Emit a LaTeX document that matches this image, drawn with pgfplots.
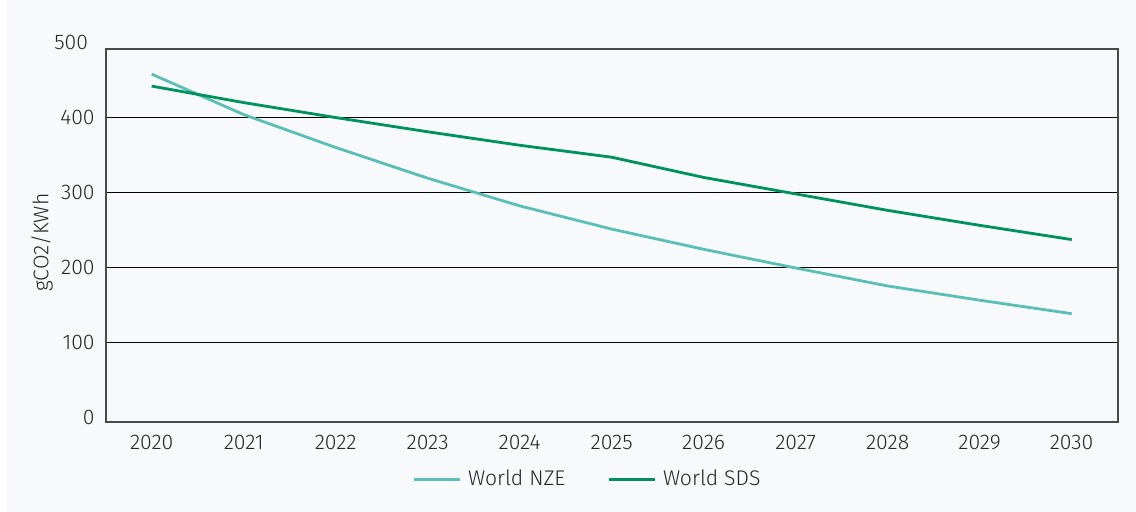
\documentclass[border=0pt]{standalone}
\usepackage{fontspec}
\setmainfont{Fira Sans}[UprightFont=* Light]
\usepackage{pgfplots}
\pgfplotsset{compat=1.18}
\definecolor{bg}{HTML}{F8F9FB}
\definecolor{nze}{RGB}{90,192,182}
\definecolor{sds}{RGB}{0,146,92}
\definecolor{frame}{HTML}{4A4A4A}
\begin{document}
\begin{tikzpicture}
\fill[white] (0,0) rectangle (568pt,256pt);
\fill[bg] (3.5pt,0) rectangle (568pt,256pt);
\begin{axis}[
  at={(52.85pt,45.15pt)}, anchor=south west,
  scale only axis, width=506pt, height=186.5pt,
  xmin=2019.5, xmax=2030.5,
  ymin=-6.3, ymax=492,
  xtick={2020,...,2030},
  ytick={100,200,300,400},
  extra y ticks={0}, extra y tick style={grid=none},
  xticklabel style={/pgf/number format/1000 sep={}, yshift=-3pt},
  yticklabel style={xshift=-2pt},
  /pgf/number format/assume math mode=true,
  tick label style={font=\fontsize{10.6}{12}\selectfont, text=black!85},
  major tick length=0pt,
  ymajorgrids, grid style={black, line width=0.5pt},
  axis line style={frame, line width=0.9pt},
  axis background/.style={fill=bg},
  clip=false,
  ylabel={gCO2/KWh},
  ylabel style={at={(axis description cs:-0.063,0.48)}, anchor=center, font=\fontsize{10.6}{12}\selectfont, text=black!85},
  legend columns=2,
  legend style={draw=none, fill=none, at={(axis description cs:0.477,-0.155)}, anchor=center,
    font=\fontsize{10.6}{12}\selectfont, text=black!85,
    /tikz/every odd column/.append style={column sep=1.5pt},
    /tikz/every even column/.append style={column sep=19pt}},
  legend image post style={line width=1.3pt},
  legend image code/.code={\draw[#1] (0cm,0cm) -- (0.81cm,0cm);},
]
\addplot[nze, line width=1.4pt] coordinates {
(2020,458) (2021,404) (2022,360) (2023,319) (2024,282) (2025,251) (2026,224) (2027,199) (2028,175) (2029,156) (2030,138)};
\addlegendentry{World NZE}
\addplot[sds, line width=1.4pt] coordinates {
(2020,442) (2021,420) (2022,400) (2023,381) (2024,363) (2025,347) (2026,320) (2027,298) (2028,276) (2029,256) (2030,237)};
\addlegendentry{World SDS}
\node[anchor=east, font=\fontsize{10.6}{12}\selectfont, text=black!85, xshift=-5.3pt] at (axis cs:2019.5,500) {500};
\end{axis}
\end{tikzpicture}
\end{document}
